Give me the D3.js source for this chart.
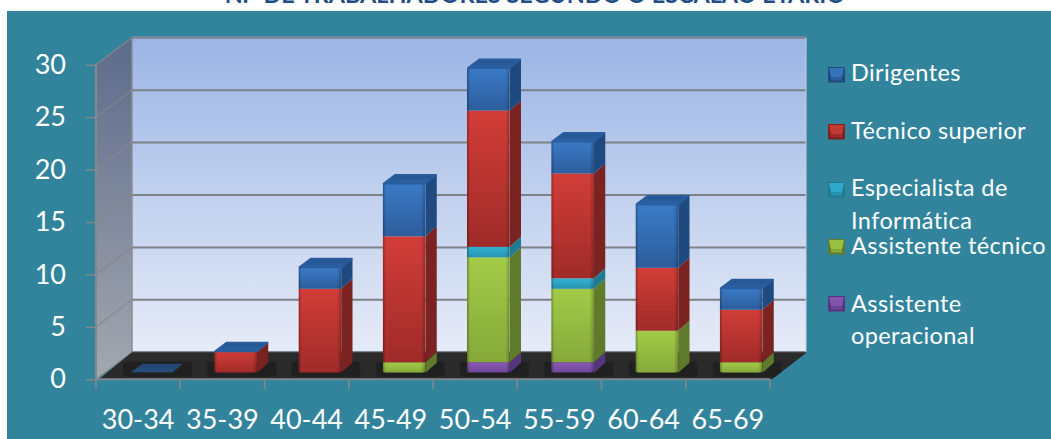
<!DOCTYPE html>
<html lang="pt">
<head>
<meta charset="utf-8">
<title>N.º de trabalhadores segundo o escalão etário</title>
<script src="https://cdn.jsdelivr.net/npm/d3@7/dist/d3.min.js"></script>
<style>
  html, body { margin: 0; padding: 0; background: #fff; }
  svg { display: block; font-family: Lato, "Open Sans", sans-serif; }
</style>
</head>
<body>
<svg id="chart" width="1051" height="439"></svg>
<script>
// Age bands and head counts per career group
const ageBands = ["30-34", "35-39", "40-44", "45-49", "50-54", "55-59", "60-64", "65-69"];
const assistenteOperacional = [0, 0, 0, 0, 1, 1, 0, 0];
const assistenteTecnico = [0, 0, 0, 1, 10, 7, 4, 1];
const especialistaInformatica = [0, 0, 0, 0, 1, 1, 0, 0];
const tecnicoSuperior = [0, 2, 8, 12, 13, 10, 6, 5];
const dirigentes = [0, 0, 2, 5, 4, 3, 6, 2];
const valueTicks = [0, 5, 10, 15, 20, 25, 30];

// Series in stacking order, bottom to top
const seriesKeys = ["op", "tec", "esp", "sup", "dir"];
const seriesValues = { op: assistenteOperacional, tec: assistenteTecnico, esp: especialistaInformatica, sup: tecnicoSuperior, dir: dirigentes };
const seriesColors = {
  op:  { hi: "#8a5ab6", lo: "#6f4798", side: "#55357c" },
  tec: { hi: "#a3cb48", lo: "#86a93a", side: "#5f7a2b" },
  esp: { hi: "#31b2d2", lo: "#2793b0", side: "#1f7a92" },
  sup: { hi: "#d23d38", lo: "#9f2b29", side: "#7a2320" },
  dir: { hi: "#3a7ac6", lo: "#2d5d9c", side: "#1f4a80" }
};
const legendItems = [
  { key: "dir", lines: ["Dirigentes"], y: 67, baselines: [81] },
  { key: "sup", lines: ["Técnico superior"], y: 124, baselines: [139] },
  { key: "esp", lines: ["Especialista de", "Informática"], y: 182, baselines: [196, 229] },
  { key: "tec", lines: ["Assistente técnico"], y: 239, baselines: [254] },
  { key: "op",  lines: ["Assistente", "operacional"], y: 296, baselines: [312, 344] }
];

const svg = d3.select("#chart");
const defs = svg.append("defs");

// Oblique projection of the chart box
const depth = { x: 36, y: 27 };
const front = { left: 96, right: 770, bottom: 379.3, top: 64.7 };
const barInset = { x: 34, y: 6.6 };
const barWidth = 42.7;
const barDepth = { x: 11.3, y: 10 };

const x = d3.scaleBand().domain(ageBands).range([front.left, front.right]);
const y = d3.scaleLinear().domain([0, 30]).range([front.bottom, front.top]);
const barY = d => y(d) - barInset.y;

function linearGradient(id, stops, horizontal) {
  const g = defs.append("linearGradient").attr("id", id)
    .attr("x1", 0).attr("y1", 0)
    .attr("x2", horizontal ? 1 : 0).attr("y2", horizontal ? 0 : 1);
  stops.forEach(s => g.append("stop").attr("offset", s[0]).attr("stop-color", s[1]).attr("stop-opacity", s[2] === undefined ? 1 : s[2]));
}
linearGradient("wallFill", [[0, "#9bb5e5"], [1, "#e6ebf7"]]);
linearGradient("sideWallFill", [[0, "#5c6b8b"], [1, "#a3a7af"]]);
linearGradient("faceEdges", [[0, "#000", 0.32], [0.07, "#000", 0], [0.9, "#000", 0], [1, "#000", 0.25]], true);
seriesKeys.forEach(k => {
  const c = seriesColors[k];
  linearGradient("front-" + k, [[0, c.hi], [1, c.lo]]);
});
linearGradient("capFill", [[0, "#24548f"], [1, "#2c62a6"]]);

// Panel behind the chart, and the heading that runs off the top edge above it
svg.append("text").attr("x", 535).attr("y", 3).attr("text-anchor", "middle")
  .attr("font-size", 23.4).attr("font-weight", 700).attr("fill", "#1f4e86")
  .text("N.º DE TRABALHADORES SEGUNDO O ESCALÃO ETÁRIO");
svg.append("rect").attr("x", 7).attr("y", 11).attr("width", 1044).attr("height", 428).attr("fill", "#31849c");

// Back wall, side wall and floor
svg.append("rect")
  .attr("x", front.left + depth.x).attr("y", front.top - depth.y - 1)
  .attr("width", front.right - front.left).attr("height", front.bottom - front.top)
  .attr("fill", "url(#wallFill)");
svg.append("polygon").attr("fill", "url(#sideWallFill)")
  .attr("points", [[front.left, front.top], [front.left + depth.x, front.top - depth.y - 1],
    [front.left + depth.x, front.bottom - depth.y], [front.left, front.bottom]].join(" "));

const grid = svg.append("g").attr("stroke", "#7f8188").attr("fill", "none");
grid.selectAll("line.back").data(valueTicks).join("line").attr("class", "back")
  .attr("x1", front.left + depth.x).attr("x2", front.right + depth.x)
  .attr("y1", d => y(d) - depth.y).attr("y2", d => y(d) - depth.y)
  .attr("stroke-width", 2);
grid.selectAll("line.side").data(valueTicks).join("line").attr("class", "side")
  .attr("x1", front.left).attr("x2", front.left + depth.x)
  .attr("y1", d => y(d)).attr("y2", d => y(d) - depth.y)
  .attr("stroke", "#84878c").attr("stroke-width", 1.2);
grid.append("line").attr("x1", front.left + depth.x).attr("x2", front.left + depth.x)
  .attr("y1", front.top - depth.y).attr("y2", front.bottom - depth.y).attr("stroke", "#8a8d94").attr("stroke-width", 1.5);
grid.append("line").attr("x1", front.right + depth.x).attr("x2", front.right + depth.x)
  .attr("y1", front.top - depth.y).attr("y2", front.bottom - depth.y).attr("stroke", "#c9cfdb").attr("stroke-width", 1);

const floorPoints = [[front.left + 3, front.bottom], [front.left + depth.x, front.bottom - depth.y],
  [front.right + depth.x + 1, front.bottom - depth.y], [front.right + 2, front.bottom]].join(" ");
svg.append("polygon").attr("fill", "#2a2a2b").attr("points", floorPoints);
defs.append("clipPath").attr("id", "floor-clip").append("polygon").attr("points", floorPoints);

// Stacked columns
const rows = ageBands.map((band, i) => {
  const row = { band };
  seriesKeys.forEach(k => { row[k] = seriesValues[k][i]; });
  return row;
});
const stacked = d3.stack().keys(seriesKeys)(rows);
const barLeft = band => x(band) + barInset.x;

defs.selectAll("clipPath.bar").data(ageBands).join("clipPath")
  .attr("class", "bar").attr("id", (d, i) => "bar-clip-" + i)
  .append("rect")
  .attr("x", d => barLeft(d)).attr("width", barWidth)
  .attr("y", front.top - 40).attr("height", d => barY(0) - front.top + 40).attr("rx", 3);

const bars = svg.append("g").selectAll("g").data(ageBands).join("g");

bars.each(function (band, i) {
  const g = d3.select(this);
  const left = barLeft(band);
  const right = left + barWidth;
  // contact shadow, kept on the floor
  g.append("g").attr("clip-path", "url(#floor-clip)").append("rect")
    .attr("x", left - 7).attr("y", barY(0) - barDepth.y - 1)
    .attr("width", barWidth + barDepth.x + 15).attr("height", barDepth.y + 5)
    .attr("fill", "#202021").attr("rx", 3);

  const segments = stacked
    .map(s => ({ key: s.key, y0: s[i][0], y1: s[i][1] }))
    .filter(s => s.y1 > s.y0);

  g.selectAll("polygon.side").data(segments).join("polygon").attr("class", "side")
    .attr("fill", s => seriesColors[s.key].side)
    .attr("points", s => [[right, barY(s.y1)], [right + barDepth.x, barY(s.y1) - barDepth.y],
      [right + barDepth.x, barY(s.y0) - barDepth.y], [right, barY(s.y0)]].join(" "));

  const faces = g.append("g").attr("clip-path", `url(#bar-clip-${i})`);
  faces.selectAll("rect.face").data(segments).join("rect").attr("class", "face")
    .attr("x", left).attr("width", barWidth)
    .attr("y", s => barY(s.y1)).attr("height", s => barY(s.y0) - barY(s.y1))
    .attr("fill", s => `url(#front-${s.key})`);
  const total = d3.sum(segments, s => s.y1 - s.y0);
  faces.append("rect").attr("x", left).attr("width", barWidth)
    .attr("y", barY(total)).attr("height", barY(0) - barY(total))
    .attr("fill", "url(#faceEdges)");

  // every column ends in the top series' cap, even when that series is empty
  g.append("polygon").attr("fill", "url(#capFill)")
    .attr("opacity", total === 0 ? 0.7 : 1)
    .attr("stroke", "#2a5c9e").attr("stroke-width", 2).attr("stroke-linejoin", "round")
    .attr("stroke-opacity", total === 0 ? 0 : 1)
    .attr("points", [[left + 1, barY(total) - 0.5], [right, barY(total) - 0.5],
      [right + barDepth.x - 1, barY(total) - barDepth.y + 1], [left + barDepth.x + 1, barY(total) - barDepth.y + 1]].join(" "));
});

// Axes
const axisColor = "#85888c";
const yAxis = svg.append("g").attr("transform", `translate(${front.left},0)`)
  .call(d3.axisLeft(y).tickValues(valueTicks).tickSize(10).tickPadding(20));
const xAxis = svg.append("g").attr("transform", `translate(0,${front.bottom})`)
  .call(d3.axisBottom(x).tickSize(0).tickPadding(39));

// Tick marks fall between the bands, on the band edges
xAxis.selectAll(".edge").data(d3.range(ageBands.length + 1)).join("line").attr("class", "edge")
  .attr("x1", i => front.left + i * x.step()).attr("x2", i => front.left + i * x.step())
  .attr("y1", 0).attr("y2", 10).attr("stroke", axisColor).attr("stroke-width", 1.5);

[yAxis, xAxis].forEach(a => {
  a.attr("font-family", null).attr("font-size", null);
  a.select(".domain").attr("stroke", axisColor).attr("stroke-width", 2);
  a.selectAll(".tick line").attr("stroke", axisColor).attr("stroke-width", 1.5);
  a.selectAll(".tick text").attr("fill", "#fff").attr("font-size", 27);
});
xAxis.select(".domain").attr("d", `M${front.left},0H${front.right}`);
xAxis.selectAll(".tick text").attr("dy", 0).attr("y", 50);
yAxis.select(".domain").attr("d", `M0,${front.top}V${front.bottom}`);

// Legend
const legend = svg.append("g").selectAll("g").data(legendItems).join("g");
legend.each(function (item) {
  const g = d3.select(this);
  const c = seriesColors[item.key];
  const sx = 828, s = 17, h = 15.5, b = 3;
  g.append("rect").attr("x", sx).attr("y", item.y).attr("width", s).attr("height", h).attr("fill", c.side);
  g.append("polygon").attr("fill", c.hi).attr("opacity", 0.85)
    .attr("points", [[sx + 1, item.y + 1], [sx + s - 1, item.y + 1], [sx + s - b, item.y + h - 5], [sx + b, item.y + h - 5]].join(" "));
  g.append("rect").attr("x", sx + b).attr("y", item.y + h - 5).attr("width", s - 2 * b).attr("height", 3).attr("fill", c.lo);
  item.lines.forEach((line, i) => {
    g.append("text").attr("x", 851).attr("y", item.baselines[i])
      .attr("font-size", 23.5).attr("letter-spacing", 0.4).attr("fill", "#fff").text(line);
  });
});
</script>
</body>
</html>
